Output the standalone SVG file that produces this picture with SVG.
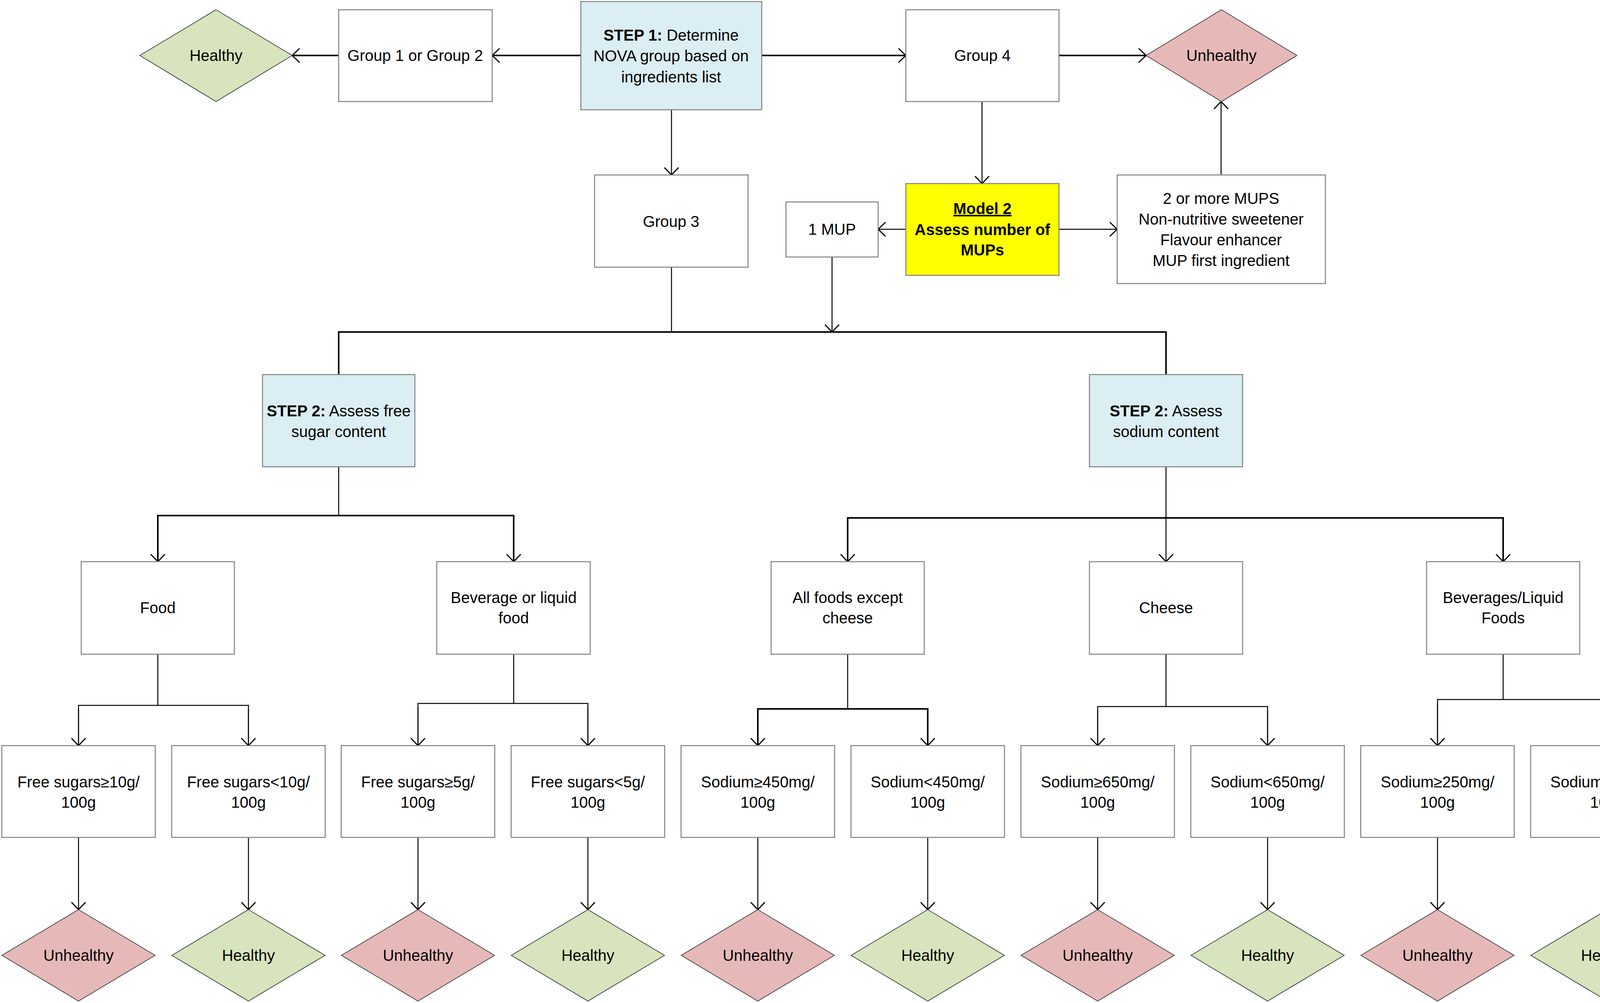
<svg xmlns="http://www.w3.org/2000/svg" width="4317" height="2568" viewBox="0 0 4317 2568">
<style>
  .box { fill: #ffffff; stroke: #7f7f7f; stroke-width: 2.5; }
  .blue { fill: #DBEEF4; }
  .yellow { fill: #FFFF00; }
  .dg { fill: #D7E4BD; stroke: #4a4a4a; stroke-width: 2; }
  .dr { fill: #E6B9B8; stroke: #4a4a4a; stroke-width: 2; }
  text { font-family: "Liberation Sans", Arial, sans-serif; font-size: 40px; fill: #000; text-anchor: middle; }
  .b { font-weight: bold; }
  .ln { fill: none; stroke: #000; stroke-width: 2.5; }
  .thick { stroke-width: 4; }
  .arr { marker-end: url(#ah); }
</style>
<defs>
  <marker id="ah" viewBox="0 0 22 38" refX="20" refY="19" markerWidth="22" markerHeight="38" orient="auto" markerUnits="userSpaceOnUse">
    <path d="M1,1 L20,19 L1,37" fill="none" stroke="#000" stroke-width="3"/>
  </marker>
</defs>
<rect width="4317" height="2568" fill="#ffffff"/>

<g id="connectors">
  <line class="ln thick arr" x1="1487" y1="142" x2="1260" y2="142"/>
  <line class="ln thick arr" x1="867" y1="142" x2="748" y2="142"/>
  <line class="ln thick arr" x1="1950" y1="142" x2="2319" y2="142"/>
  <line class="ln thick arr" x1="2711" y1="142" x2="2934" y2="142"/>
  <line class="ln arr" x1="1719" y1="281" x2="1719" y2="448"/>
  <line class="ln arr" x1="2514" y1="260" x2="2514" y2="470"/>
  <line class="ln arr" x1="2319" y1="587" x2="2248" y2="587"/>
  <line class="ln arr" x1="2711" y1="587" x2="2860" y2="587"/>
  <line class="ln arr" x1="3126" y1="448" x2="3126" y2="260"/>
  <line class="ln" x1="1719" y1="684" x2="1719" y2="850"/>
  <line class="ln arr" x1="2130" y1="658" x2="2130" y2="850"/>
  <polyline class="ln thick" points="867,959 867,850 2985,850 2985,959"/>

  <line class="ln" x1="867" y1="1195" x2="867" y2="1320"/>
  <polyline class="ln thick" points="404,1438 404,1320 1315,1320 1315,1438"/>
  <line class="ln arr" x1="404" y1="1330" x2="404" y2="1438"/>
  <line class="ln arr" x1="1315" y1="1330" x2="1315" y2="1438"/>

  <line class="ln arr" x1="2985" y1="1195" x2="2985" y2="1438"/>
  <polyline class="ln thick" points="2170,1438 2170,1326 3848,1326 3848,1438"/>
  <line class="ln arr" x1="2170" y1="1336" x2="2170" y2="1438"/>
  <line class="ln arr" x1="3848" y1="1336" x2="3848" y2="1438"/>

  <line class="ln" x1="404" y1="1675" x2="404" y2="1806"/>
  <polyline class="ln" points="201,1909 201,1806 636,1806 636,1909"/>
  <line class="ln arr" x1="201" y1="1816" x2="201" y2="1909"/>
  <line class="ln arr" x1="636" y1="1816" x2="636" y2="1909"/>

  <line class="ln" x1="1315" y1="1675" x2="1315" y2="1801"/>
  <polyline class="ln" points="1070,1909 1070,1801 1505,1801 1505,1909"/>
  <line class="ln arr" x1="1070" y1="1811" x2="1070" y2="1909"/>
  <line class="ln arr" x1="1505" y1="1811" x2="1505" y2="1909"/>

  <line class="ln" x1="2170" y1="1675" x2="2170" y2="1815"/>
  <polyline class="ln thick" points="1940,1909 1940,1815 2375,1815 2375,1909"/>
  <line class="ln arr" x1="1940" y1="1825" x2="1940" y2="1909"/>
  <line class="ln arr" x1="2375" y1="1825" x2="2375" y2="1909"/>

  <line class="ln" x1="2985" y1="1675" x2="2985" y2="1809"/>
  <polyline class="ln" points="2810,1909 2810,1809 3245,1809 3245,1909"/>
  <line class="ln arr" x1="2810" y1="1819" x2="2810" y2="1909"/>
  <line class="ln arr" x1="3245" y1="1819" x2="3245" y2="1909"/>

  <line class="ln" x1="3848" y1="1675" x2="3848" y2="1791"/>
  <polyline class="ln" points="3680,1909 3680,1791 4115,1791 4115,1909"/>
  <line class="ln arr" x1="3680" y1="1801" x2="3680" y2="1909"/>
  <line class="ln arr" x1="4115" y1="1801" x2="4115" y2="1909"/>

  <line class="ln arr" x1="201" y1="2144" x2="201" y2="2329"/>
  <line class="ln arr" x1="636" y1="2144" x2="636" y2="2329"/>
  <line class="ln arr" x1="1070" y1="2144" x2="1070" y2="2329"/>
  <line class="ln arr" x1="1505" y1="2144" x2="1505" y2="2329"/>
  <line class="ln arr" x1="1940" y1="2144" x2="1940" y2="2329"/>
  <line class="ln arr" x1="2375" y1="2144" x2="2375" y2="2329"/>
  <line class="ln arr" x1="2810" y1="2144" x2="2810" y2="2329"/>
  <line class="ln arr" x1="3245" y1="2144" x2="3245" y2="2329"/>
  <line class="ln arr" x1="3680" y1="2144" x2="3680" y2="2329"/>
  <line class="ln arr" x1="4115" y1="2144" x2="4115" y2="2329"/>
</g>

<g id="healthy-top">
  <polygon class="dg" points="553,25 748,142 553,260 358,142"/>
  <text x="553" y="156">Healthy</text>
</g>
<g id="group12">
  <rect class="box" x="867" y="25" width="393" height="235"/>
  <text x="1063" y="156">Group 1 or Group 2</text>
</g>
<g id="step1">
  <rect class="box blue" x="1487" y="4" width="463" height="277"/>
  <text x="1718" y="104"><tspan class="b">STEP 1:</tspan> Determine</text>
  <text x="1718" y="157">NOVA group based on</text>
  <text x="1718" y="211">ingredients list</text>
</g>
<g id="group4">
  <rect class="box" x="2319" y="25" width="392" height="235"/>
  <text x="2515" y="156">Group 4</text>
</g>
<g id="unhealthy-top">
  <polygon class="dr" points="3127,25 3320,142 3127,260 2934,142"/>
  <text x="3127" y="156">Unhealthy</text>
</g>
<g id="group3">
  <rect class="box" x="1522" y="448" width="393" height="236"/>
  <text x="1718" y="581">Group 3</text>
</g>
<g id="mup1">
  <rect class="box" x="2012" y="517" width="236" height="141"/>
  <text x="2130" y="601">1 MUP</text>
</g>
<g id="model2">
  <rect class="box yellow" x="2319" y="470" width="392" height="235"/>
  <text x="2515" y="548" class="b" text-decoration="underline">Model 2</text>
  <text x="2515" y="602" class="b">Assess number of</text>
  <text x="2515" y="654" class="b">MUPs</text>
</g>
<g id="mups">
  <rect class="box" x="2860" y="448" width="533" height="278"/>
  <text x="3126" y="522">2 or more MUPS</text>
  <text x="3126" y="575">Non-nutritive sweetener</text>
  <text x="3126" y="628">Flavour enhancer</text>
  <text x="3126" y="681">MUP first ingredient</text>
</g>
<g id="step2-sugar">
  <rect class="box blue" x="672" y="959" width="390" height="236"/>
  <text x="867" y="1066"><tspan class="b">STEP 2:</tspan> Assess free</text>
  <text x="867" y="1119">sugar content</text>
</g>
<g id="step2-sodium">
  <rect class="box blue" x="2789" y="959" width="392" height="236"/>
  <text x="2985" y="1066"><tspan class="b">STEP 2:</tspan> Assess</text>
  <text x="2985" y="1119">sodium content</text>
</g>
<g id="food">
  <rect class="box" x="208" y="1438" width="392" height="237"/>
  <text x="404" y="1570">Food</text>
</g>
<g id="beverage">
  <rect class="box" x="1118" y="1438" width="393" height="237"/>
  <text x="1315" y="1544">Beverage or liquid</text>
  <text x="1315" y="1596">food</text>
</g>
<g id="allfoods">
  <rect class="box" x="1974" y="1438" width="392" height="237"/>
  <text x="2170" y="1544">All foods except</text>
  <text x="2170" y="1596">cheese</text>
</g>
<g id="cheese">
  <rect class="box" x="2789" y="1438" width="392" height="237"/>
  <text x="2985" y="1570">Cheese</text>
</g>
<g id="beverages">
  <rect class="box" x="3652" y="1438" width="392" height="237"/>
  <text x="3848" y="1544">Beverages/Liquid</text>
  <text x="3848" y="1596">Foods</text>
</g>

<g id="c1"><rect class="box" x="4.5" y="1909" width="393" height="235"/><text x="201" y="2016">Free sugars≥10g/</text><text x="201" y="2068">100g</text></g>
<g id="c2"><rect class="box" x="439.5" y="1909" width="393" height="235"/><text x="636" y="2016">Free sugars&lt;10g/</text><text x="636" y="2068">100g</text></g>
<g id="c3"><rect class="box" x="873.5" y="1909" width="393" height="235"/><text x="1070" y="2016">Free sugars≥5g/</text><text x="1070" y="2068">100g</text></g>
<g id="c4"><rect class="box" x="1308.5" y="1909" width="393" height="235"/><text x="1505" y="2016">Free sugars&lt;5g/</text><text x="1505" y="2068">100g</text></g>
<g id="c5"><rect class="box" x="1743.5" y="1909" width="393" height="235"/><text x="1940" y="2016">Sodium≥450mg/</text><text x="1940" y="2068">100g</text></g>
<g id="c6"><rect class="box" x="2178.5" y="1909" width="393" height="235"/><text x="2375" y="2016">Sodium&lt;450mg/</text><text x="2375" y="2068">100g</text></g>
<g id="c7"><rect class="box" x="2613.5" y="1909" width="393" height="235"/><text x="2810" y="2016">Sodium≥650mg/</text><text x="2810" y="2068">100g</text></g>
<g id="c8"><rect class="box" x="3048.5" y="1909" width="393" height="235"/><text x="3245" y="2016">Sodium&lt;650mg/</text><text x="3245" y="2068">100g</text></g>
<g id="c9"><rect class="box" x="3483.5" y="1909" width="393" height="235"/><text x="3680" y="2016">Sodium≥250mg/</text><text x="3680" y="2068">100g</text></g>
<g id="c10"><rect class="box" x="3918.5" y="1909" width="393" height="235"/><text x="4115" y="2016">Sodium&lt;250mg/</text><text x="4115" y="2068">100g</text></g>

<g id="r1"><polygon class="dr" points="201,2329 397,2446 201,2563 5,2446"/><text x="201" y="2460">Unhealthy</text></g>
<g id="r2"><polygon class="dg" points="636,2329 832,2446 636,2563 440,2446"/><text x="636" y="2460">Healthy</text></g>
<g id="r3"><polygon class="dr" points="1070,2329 1266,2446 1070,2563 874,2446"/><text x="1070" y="2460">Unhealthy</text></g>
<g id="r4"><polygon class="dg" points="1505,2329 1701,2446 1505,2563 1309,2446"/><text x="1505" y="2460">Healthy</text></g>
<g id="r5"><polygon class="dr" points="1940,2329 2136,2446 1940,2563 1744,2446"/><text x="1940" y="2460">Unhealthy</text></g>
<g id="r6"><polygon class="dg" points="2375,2329 2571,2446 2375,2563 2179,2446"/><text x="2375" y="2460">Healthy</text></g>
<g id="r7"><polygon class="dr" points="2810,2329 3006,2446 2810,2563 2614,2446"/><text x="2810" y="2460">Unhealthy</text></g>
<g id="r8"><polygon class="dg" points="3245,2329 3441,2446 3245,2563 3049,2446"/><text x="3245" y="2460">Healthy</text></g>
<g id="r9"><polygon class="dr" points="3680,2329 3876,2446 3680,2563 3484,2446"/><text x="3680" y="2460">Unhealthy</text></g>
<g id="r10"><polygon class="dg" points="4115,2329 4311,2446 4115,2563 3919,2446"/><text x="4115" y="2460">Healthy</text></g>
</svg>
